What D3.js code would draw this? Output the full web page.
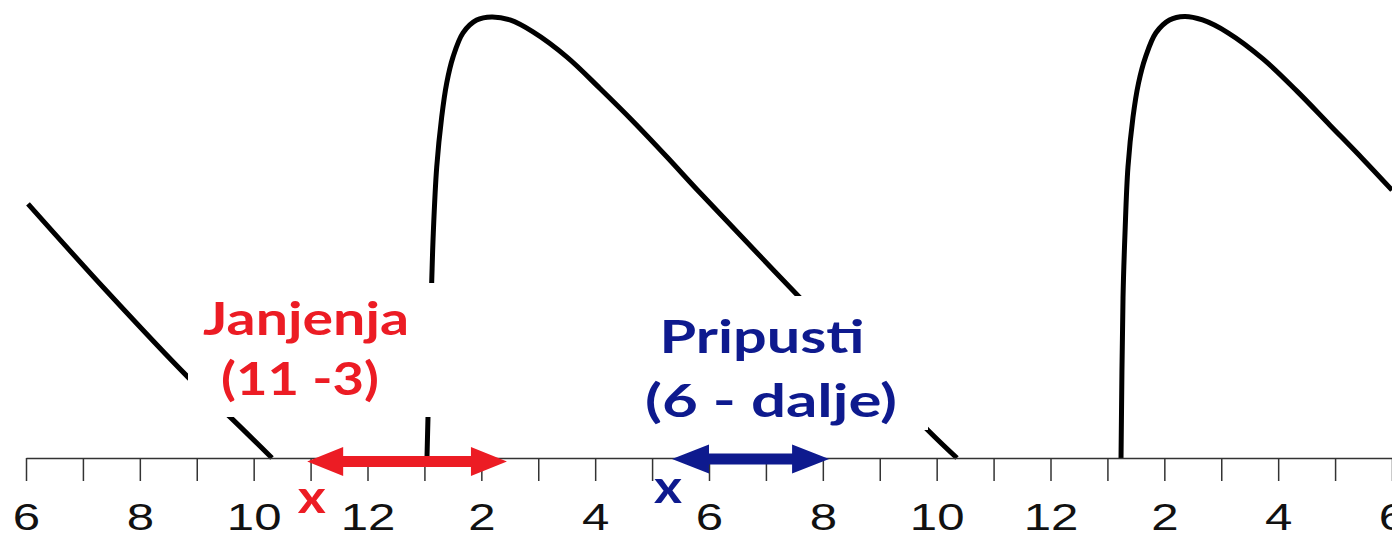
<!DOCTYPE html>
<html>
<head>
<meta charset="utf-8">
<script src="https://cdn.jsdelivr.net/npm/d3@7"></script>
<style>
  html, body { margin: 0; padding: 0; background: #fff; overflow: hidden; }
  svg { display: block; }
</style>
</head>
<body>
<svg id="chart" width="1392" height="535"></svg>
<script>
// Month axis: position 0 = June of the first year, 24 = June two years later
const monthLabels = ["6","7","8","9","10","11","12","1","2","3","4","5",
                     "6","7","8","9","10","11","12","1","2","3","4","5","6"];

// Tail of the previous season's curve (month position, relative level 0-100)
const prevSeasonMonth = [0.035, 1.40, 2.846, 3.584, 4.322];
const prevSeasonLevel = [57.5, 38.0, 18.3, 9.3, 0];

// First season
const season1Month = [7.045, 7.063, 7.128, 7.156, 7.216, 7.303, 7.391, 7.502, 7.678, 7.918,
                      8.182, 8.503, 8.908, 9.505, 10.085, 10.664, 11.262, 11.842, 13.564, 15.847, 16.357];
const season1Level = [0, 9.3, 39.8, 50.9, 65.8, 77.1, 84.8, 90.7, 96.2, 99.1,
                      99.8, 99.1, 96.4, 90.7, 83.6, 76.2, 68.1, 60.0, 36.7, 6.3, 0];

// Second season
const season2Month = [19.239, 19.274, 19.309, 19.361, 19.449, 19.546, 19.669, 19.853, 20.091,
                      20.354, 20.671, 21.119, 21.733, 22.330, 22.910, 23.490, 24.0];
const season2Level = [0, 36.2, 50.9, 65.8, 77.1, 84.8, 90.7, 96.2, 99.1,
                      99.9, 99.1, 96.2, 90.3, 83.0, 75.3, 67.6, 60.6];

// Lambing (Janjenja) and mating (Pripusti) periods, in month positions
const lambingSpan = [4.94, 8.45];
const matingSpan = [11.35, 14.11];
const lambingMark = 5.02;
const matingMark = 11.28;

const axisY = 458;

const svg = d3.select("#chart");

const x = d3.scaleLinear().domain([0, 24]).range([26, 1392]);
const y = d3.scaleLinear().domain([0, 100]).range([axisY, 16]);

const line = d3.line()
  .x(d => x(d[0]))
  .y(d => y(d[1]))
  .curve(d3.curveCatmullRom.alpha(0.5));

const series = [
  d3.zip(prevSeasonMonth, prevSeasonLevel),
  d3.zip(season1Month, season1Level),
  d3.zip(season2Month, season2Level)
];

svg.append("g")
  .selectAll("path")
  .data(series)
  .join("path")
  .attr("d", line)
  .attr("fill", "none")
  .attr("stroke", "#000")
  .attr("stroke-width", 5)
  .attr("stroke-linejoin", "round");

// White panels behind the two annotation blocks
svg.append("rect").attr("x", 188).attr("y", 283).attr("width", 252).attr("height", 134).attr("fill", "#fff");
svg.append("rect").attr("x", 640).attr("y", 296).attr("width", 288).attr("height", 134).attr("fill", "#fff");

// Month axis
const axis = d3.axisBottom(x)
  .tickValues(d3.range(monthLabels.length))
  .tickSize(23)
  .tickSizeOuter(0)
  .tickPadding(23)
  .tickFormat(i => (i % 2 === 0 ? monthLabels[i] : ""));

const gAxis = svg.append("g")
  .attr("transform", `translate(0,${axisY})`)
  .call(axis);

gAxis.select(".domain").attr("stroke", "#333").attr("stroke-width", 1.5);
gAxis.selectAll(".tick line").attr("stroke", "#333").attr("stroke-width", 1.5);
gAxis.selectAll(".tick text")
  .attr("fill", "#111")
  .attr("font-family", "'Liberation Sans', Arial, sans-serif")
  .attr("font-size", 37)
  .attr("transform", "scale(1.33,1)");

// Double-headed arrows
function arrowPath(x1, x2, cy, L, Hh, t) {
  return `M${x1},${cy} L${x1 + L},${cy - Hh} L${x1 + L},${cy - t} L${x2 - L},${cy - t} L${x2 - L},${cy - Hh}` +
         ` L${x2},${cy} L${x2 - L},${cy + Hh} L${x2 - L},${cy + t} L${x1 + L},${cy + t} L${x1 + L},${cy + Hh} Z`;
}

const red = "#ec1c24";
const blue = "#0e1a8e";

svg.append("path")
  .attr("d", arrowPath(x(lambingSpan[0]), x(lambingSpan[1]), 461.5, 36, 14.5, 5.5))
  .attr("fill", red);
svg.append("path")
  .attr("d", arrowPath(x(matingSpan[0]), x(matingSpan[1]), 459, 37, 14.5, 5.5))
  .attr("fill", blue);

// Text labels, stretched horizontally to their block widths
function label(text, cx, baseline, size, width, color) {
  const t = svg.append("text")
    .text(text)
    .attr("font-family", "Lato, 'Open Sans', sans-serif")
    .attr("font-weight", 700)
    .attr("font-size", size)
    .attr("fill", color)
    .attr("text-anchor", "middle");
  const w = t.node().getComputedTextLength();
  const sx = width / w;
  t.attr("transform", `translate(${cx},${baseline}) scale(${sx},1)`);
  return t;
}

label("Janjenja", 306, 335, 46, 206, red);
label("(11 -3)", 300, 395, 46, 158, red);
label("Pripusti", 762, 353, 46, 205, blue);
label("(6 - dalje)", 771, 417, 46, 252, blue);

label("x", x(lambingMark), 513, 45, 28, red);
label("x", x(matingMark), 503, 45, 28, blue);
</script>
</body>
</html>
